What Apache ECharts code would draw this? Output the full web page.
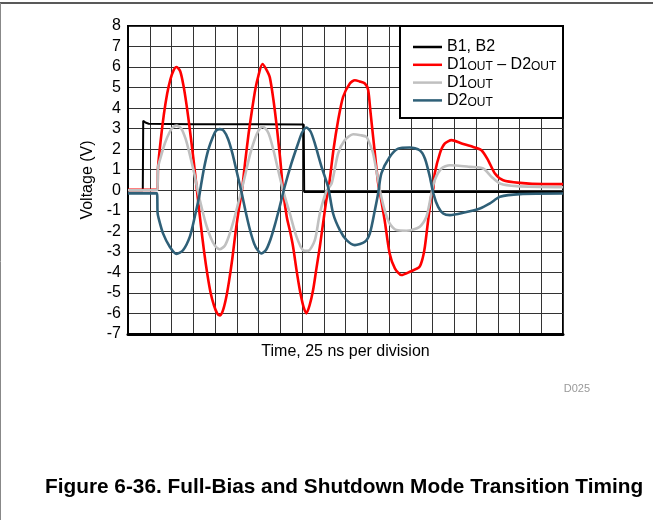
<!DOCTYPE html>
<html><head><meta charset="utf-8">
<script src="https://cdn.jsdelivr.net/npm/echarts@6/dist/echarts.min.js"></script>
<style>html,body{margin:0;padding:0;background:#fff}#c{width:653px;height:520px}</style>
</head><body><div id="c"></div>
<script>
// time in divisions (25 ns each), voltage in V
const seriesNames = ['B1, B2', 'D1OUT – D2OUT', 'D1OUT', 'D2OUT'];
const yTicks = [-7,-6,-5,-4,-3,-2,-1,0,1,2,3,4,5,6,7,8];
const b1b2 = [[0,0],[0.68,0],[0.7,3.38],[0.8,3.3],[0.95,3.24],[3,3.22],[6,3.21],[8.08,3.2],[8.1,-0.08],[12,-0.08],[20,-0.08]];
const diff = [[0,0.02],[1.35,0.03],[1.38,1.1],[1.5,2.4],[1.65,3.7],[1.8,4.7],[1.95,5.4],[2.1,5.85],[2.23,6.0],[2.4,5.8],[2.55,5.1],[2.7,4.1],[2.85,2.9],[3.0,1.6],[3.17,0],[3.35,-1.7],[3.5,-3.0],[3.65,-4.1],[3.8,-5.0],[3.95,-5.6],[4.1,-6.0],[4.22,-6.1],[4.35,-5.9],[4.5,-5.3],[4.65,-4.4],[4.8,-3.3],[4.95,-2.0],[5.1,-0.9],[5.24,0],[5.4,1.5],[5.55,2.8],[5.7,3.9],[5.85,4.9],[6.0,5.6],[6.18,6.15],[6.35,5.9],[6.52,5.5],[6.7,4.3],[6.85,3.0],[7.0,1.5],[7.13,0],[7.3,-1.3],[7.45,-2.0],[7.59,-2.75],[7.75,-3.9],[7.9,-4.86],[8.05,-5.6],[8.2,-6.0],[8.35,-5.6],[8.51,-4.86],[8.65,-3.9],[8.82,-2.75],[8.97,-1.6],[9.12,-0.48],[9.25,0.3],[9.45,2.0],[9.66,3.4],[9.89,4.55],[10.2,5.2],[10.43,5.36],[10.65,5.3],[10.89,5.2],[11.04,4.9],[11.15,3.8],[11.27,2.6],[11.4,1.3],[11.5,0.35],[11.58,-0.1],[11.8,-1.46],[12.03,-3.08],[12.27,-3.8],[12.57,-4.13],[12.96,-3.97],[13.4,-3.73],[13.55,-3.3],[13.65,-2.75],[13.8,-1.46],[13.96,-0.16],[14.04,0.1],[14.1,0.8],[14.34,1.8],[14.57,2.28],[14.88,2.44],[15.34,2.28],[15.87,2.11],[16.25,1.95],[16.56,1.46],[16.87,0.82],[17.25,0.49],[18.02,0.36],[19.09,0.3],[20,0.3]];
const d1out = [[0,0],[1.35,0.02],[1.38,1.1],[1.5,1.6],[1.7,2.3],[1.9,2.8],[2.05,3.05],[2.23,3.15],[2.45,3.0],[2.65,2.5],[2.85,1.7],[3.05,0.8],[3.2,0],[3.4,-0.9],[3.6,-1.7],[3.8,-2.3],[4.0,-2.7],[4.22,-2.87],[4.45,-2.7],[4.65,-2.2],[4.85,-1.5],[5.05,-0.7],[5.22,0],[5.4,0.8],[5.6,1.7],[5.8,2.4],[6.0,2.9],[6.18,3.1],[6.4,2.9],[6.52,2.6],[6.7,1.9],[6.9,1.0],[7.13,0],[7.44,-1.13],[7.75,-2.27],[8.05,-2.92],[8.28,-2.95],[8.59,-2.43],[8.82,-1.13],[9.12,-0.05],[9.36,0.32],[9.66,1.79],[9.97,2.44],[10.35,2.73],[10.7,2.68],[10.96,2.6],[11.1,2.3],[11.27,1.79],[11.5,0.49],[11.6,-0.1],[11.8,-0.97],[12.03,-1.62],[12.34,-1.94],[12.8,-1.97],[13.41,-1.78],[13.72,-1.29],[13.95,-0.16],[14.1,0.49],[14.41,1.06],[14.8,1.22],[15.72,1.14],[16.33,1.06],[16.72,0.65],[17.1,0.33],[17.87,0.2],[20,0.15]];
const d2out = [[0,-0.15],[1.33,-0.15],[1.36,-1.1],[1.41,-1.37],[1.61,-2.1],[1.92,-2.75],[2.23,-3.1],[2.53,-2.92],[2.84,-2.27],[3.07,-1.29],[3.27,-0.32],[3.35,0.2],[3.5,1.1],[3.7,2.0],[3.9,2.6],[4.05,2.9],[4.22,2.98],[4.4,2.9],[4.6,2.5],[4.8,1.8],[5.0,0.9],[5.22,-0.1],[5.4,-1.0],[5.6,-1.9],[5.8,-2.6],[5.95,-2.9],[6.14,-3.08],[6.35,-2.9],[6.55,-2.4],[6.75,-1.7],[6.95,-0.9],[7.2,0.16],[7.51,1.3],[7.82,2.28],[8.0,2.8],[8.2,3.06],[8.4,2.85],[8.59,2.28],[8.9,1.14],[9.2,0.16],[9.43,-1.13],[9.74,-1.94],[10.05,-2.43],[10.43,-2.67],[10.89,-2.51],[11.12,-2.1],[11.35,-0.97],[11.5,-0.16],[11.65,0.82],[12.03,1.62],[12.42,2.03],[12.96,2.08],[13.41,1.95],[13.65,1.55],[13.88,0.65],[14.04,-0.16],[14.26,-0.81],[14.49,-1.13],[14.8,-1.21],[15.41,-1.1],[16.18,-0.89],[16.64,-0.64],[17.1,-0.32],[18.02,-0.19],[20,-0.16]];
const colors = ['#000000', '#ff0000', '#c0c0c0', '#2f6078'];

const FONT = '"Liberation Sans", Arial, sans-serif';
const chart = echarts.init(document.getElementById('c'), null, {renderer: 'canvas'});
const datas = [b1b2, diff, d1out, d2out];
const series = seriesNames.map((n, i) => ({
  name: n, type: 'line', data: datas[i], showSymbol: false, symbol: 'none',
  smooth: i === 0 ? false : 0.25,
  lineStyle: {color: colors[i], width: i === 0 ? 2 : 2.6},
  itemStyle: {color: colors[i]},
  z: 2 + i, animation: false
}));
chart.setOption({
  animation: false,
  backgroundColor: '#fff',
  grid: {left: 128, top: 26, width: 435, height: 308, show: true, borderColor: '#000', borderWidth: 2, backgroundColor: 'transparent'},
  xAxis: {
    type: 'value', min: 0, max: 20, interval: 1,
    name: 'Time, 25 ns per division', nameLocation: 'middle', nameGap: 10,
    nameTextStyle: {fontFamily: FONT, fontSize: 16, color: '#000'},
    axisLabel: {show: false}, axisTick: {show: false},
    axisLine: {show: true, onZero: false, lineStyle: {color: '#000', width: 3}},
    splitLine: {show: true, lineStyle: {color: '#333', width: 1}}
  },
  yAxis: {
    type: 'value', min: yTicks[0], max: yTicks[yTicks.length - 1], interval: 1,
    name: 'Voltage (V)', nameLocation: 'middle', nameGap: 28,
    nameTextStyle: {fontFamily: FONT, fontSize: 16, color: '#000'},
    axisLabel: {fontFamily: FONT, fontSize: 16, color: '#000', margin: 7},
    axisTick: {show: false},
    axisLine: {show: true, lineStyle: {color: '#000', width: 2}},
    splitLine: {show: true, lineStyle: {color: '#333', width: 1}}
  },
  legend: {
    data: seriesNames, orient: 'vertical', left: 408, top: 34, z: 110,
    icon: 'rect', itemWidth: 29, itemHeight: 2.5, itemGap: -2.2,
    formatter: n => n.replace(/OUT/g, '{s|OUT}'),
    textStyle: {fontFamily: FONT, fontSize: 16, color: '#000', lineHeight: 16,
      rich: {s: {fontFamily: FONT, fontSize: 12, color: '#000', verticalAlign: 'bottom', lineHeight: 10, padding: [8, 0, 0, 0]}}}
  },
  title: {
    text: 'Figure 6-36. Full-Bias and Shutdown Mode Transition Timing',
    left: 40, top: 472,
    textStyle: {fontFamily: FONT, fontSize: 20.8, fontWeight: 'bold', color: '#000'}
  },
  graphic: [
    {type: 'rect', z: 100, shape: {x: 400, y: 26, width: 163, height: 92}, style: {fill: '#fff', stroke: '#000', lineWidth: 2}},
    {type: 'line', z: 100, shape: {x1: 0, y1: 3, x2: 653, y2: 3}, style: {stroke: '#222', lineWidth: 1.5}},
    {type: 'line', z: 100, shape: {x1: 0.5, y1: 3, x2: 0.5, y2: 520}, style: {stroke: '#888', lineWidth: 1}},
    {type: 'text', z: 100, style: {text: 'D025', x: 590, y: 389, align: 'right', verticalAlign: 'middle', fill: '#999', font: '11px ' + FONT}}
  ],
  series: series
});
</script></body></html>
